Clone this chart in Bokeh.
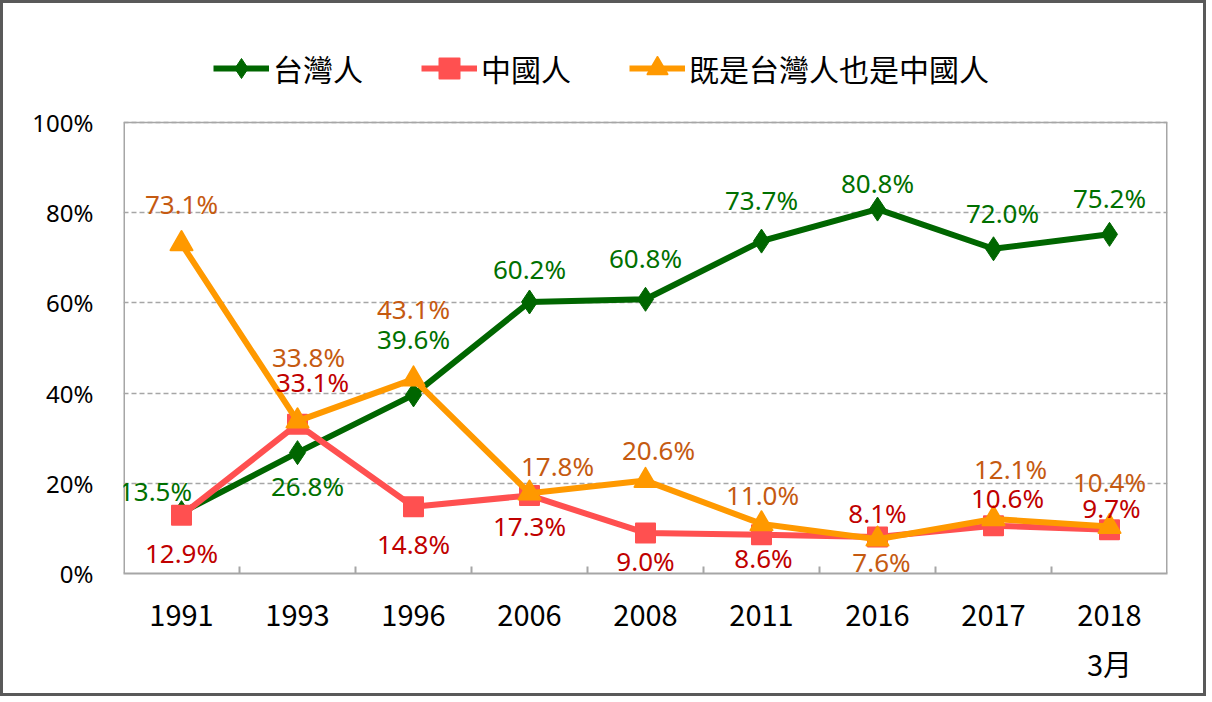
from bokeh.plotting import figure
from bokeh.models import (ColumnDataSource, FixedTicker, PrintfTickFormatter,
                          Range1d, Legend, LegendItem)
from bokeh.core.properties import value
from bokeh.embed import file_html
from bokeh.resources import INLINE

# ---- data ----
years = ["1991", "1993", "1996", "2006", "2008", "2011", "2016", "2017", "2018\n3月"]
taiwanese = [13.5, 26.8, 39.6, 60.2, 60.8, 73.7, 80.8, 72.0, 75.2]
chinese = [12.9, 33.1, 14.8, 17.3, 9.0, 8.6, 8.1, 10.6, 9.7]
both = [73.1, 33.8, 43.1, 17.8, 20.6, 11.0, 7.6, 12.1, 10.4]
series_names = ["台灣人", "中國人", "既是台灣人也是中國人"]
y_ticks = [0, 20, 40, 60, 80, 100]

# ---- label placement (screen pixel offsets, positive y = down) ----
tw_dx = [-26, 10, 0, 0, 0, 0, 0, 9, 0]
tw_dy = [-22, 33, -56, -33, -41, -41, -26, -36, -36]
cn_dx = [0, 15, 0, 0, 0, 2, 0, 14, 2]
cn_dy = [38, -42, 37, 31, 28, 23, -24, -28, -22]
bo_dx = [0, 11, 0, 28, 13, 1, 4, 17, 0]
bo_dy = [-40, -64, -70, -27, -31, -29, 23, -50, -45]

n = len(years)
xs = [i + 0.5 for i in range(n)]

FONT = "Noto Sans"
CJK = "Noto Sans CJK TC"

W, H = 1206, 696
TOP, BOTTOM, LEFT, RIGHT = 30, 126, 120, 42
frame_h = H - TOP - BOTTOM
y_top = 100 * frame_h / 451.0   # frame extends above 100% to host the legend

p = figure(width=W, height=H, output_backend="svg", toolbar_location=None,
           x_range=Range1d(0, n), y_range=Range1d(0, y_top),
           min_border_left=LEFT, min_border_right=RIGHT, min_border_bottom=BOTTOM,
           min_border_top=TOP, background_fill_color="white",
           border_fill_color="white")
p.styles = {"border": "3px solid #595959"}
p.outline_line_color = None

# grid
p.xgrid.visible = False
p.ygrid.ticker = FixedTicker(ticks=y_ticks[1:])
p.ygrid.grid_line_color = "#A6A6A6"
p.ygrid.grid_line_dash = "5 3"
p.ygrid.grid_line_width = 1.5

# plot-area border (left, right, top) drawn in data space
GRAY = "#A6A6A6"
p.segment(x0=[0, n, 0], y0=[0, 0, 100], x1=[0, n, n], y1=[100, 100, 100],
          line_color=GRAY, line_width=[3, 3, 1.5])

# y axis
p.yaxis.ticker = FixedTicker(ticks=y_ticks)
p.yaxis.formatter = PrintfTickFormatter(format="%d%%")
p.yaxis.axis_line_color = None
p.yaxis.major_tick_line_color = None
p.yaxis.minor_tick_line_color = None
p.yaxis.major_label_text_font = FONT
p.yaxis.major_label_text_font_size = "24px"
p.yaxis.major_label_text_color = "#000000"
p.yaxis.major_label_standoff = 24

# x axis
p.xaxis.ticker = FixedTicker(ticks=xs, minor_ticks=list(range(1, n)))
p.xaxis.major_label_overrides = {x: y for x, y in zip(xs, years)}
p.xaxis.axis_line_color = GRAY
p.xaxis.axis_line_width = 2
p.xaxis.major_tick_line_color = None
p.xaxis.minor_tick_line_color = GRAY
p.xaxis.minor_tick_line_width = 2
p.xaxis.minor_tick_in = 7
p.xaxis.minor_tick_out = 0
p.xaxis.major_label_text_font = CJK
p.xaxis.major_label_text_font_size = "29px"
p.xaxis.major_label_text_color = "#000000"
p.xaxis.major_label_standoff = 12

src = ColumnDataSource(dict(x=xs, tw=taiwanese, cn=chinese, bo=both,
                            twl=[f"{v:.1f}%" for v in taiwanese],
                            cnl=[f"{v:.1f}%" for v in chinese],
                            bol=[f"{v:.1f}%" for v in both],
                            tw_dx=tw_dx, tw_dy=tw_dy, cn_dx=cn_dx, cn_dy=cn_dy,
                            bo_dx=bo_dx, bo_dy=bo_dy))

GREEN, RED, ORANGE = "#006600", "#FF5050", "#FF9900"
GREEN_T, RED_T, ORANGE_T = "#007000", "#C00000", "#C55A11"

l1 = p.line("x", "tw", source=src, line_color=GREEN, line_width=6)
m1 = p.scatter("x", "tw", source=src, marker="diamond", size=24,
               fill_color=GREEN, line_color=GREEN)
l2 = p.line("x", "cn", source=src, line_color=RED, line_width=6)
m2 = p.scatter("x", "cn", source=src, marker="square", size=19,
               fill_color=RED, line_color=RED, line_join="round", line_width=2)
l3 = p.line("x", "bo", source=src, line_color=ORANGE, line_width=6)
m3 = p.scatter("x", "bo", source=src, marker="triangle", size=22,
               fill_color=ORANGE, line_color=ORANGE, line_join="round", line_width=2)

for col, ycol, dx, dy, colr in [("twl", "tw", "tw_dx", "tw_dy", GREEN_T),
                                ("cnl", "cn", "cn_dx", "cn_dy", RED_T),
                                ("bol", "bo", "bo_dx", "bo_dy", ORANGE_T)]:
    p.text("x", ycol, text=col, source=src, x_offset=dx, y_offset=dy,
           text_font=value(FONT), text_font_size="26px", text_color=colr,
           text_align="center", text_baseline="middle")

legend = Legend(items=[LegendItem(label=series_names[0], renderers=[l1, m1]),
                       LegendItem(label=series_names[1], renderers=[l2, m2]),
                       LegendItem(label=series_names[2], renderers=[l3, m3])],
                orientation="horizontal", location=(90, 480),
                border_line_color=None, background_fill_alpha=0,
                label_text_font=CJK, label_text_font_size="30px",
                label_text_color="#000000", glyph_width=56, glyph_height=50,
                label_height=30, spacing=58, label_standoff=4, padding=0, margin=0)
p.add_layout(legend, "center")

open("out.html", "w").write(file_html(p, INLINE))
